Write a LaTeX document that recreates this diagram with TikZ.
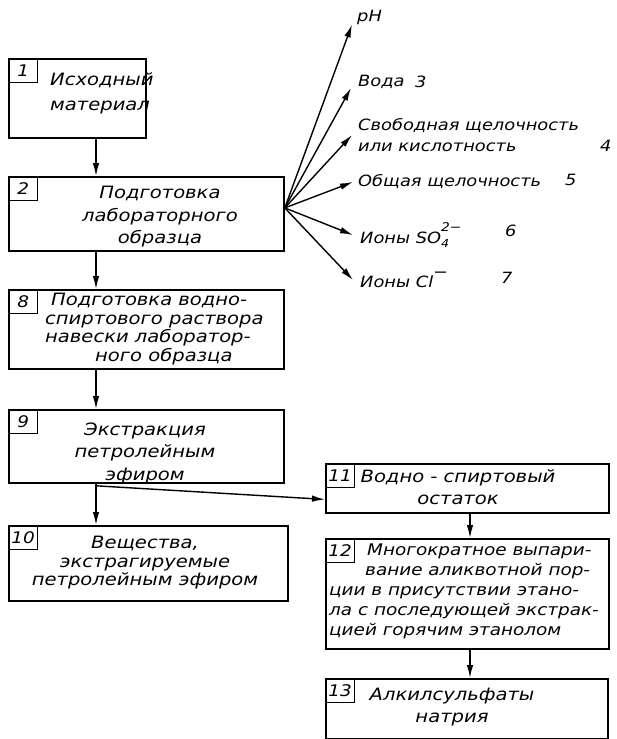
\documentclass[tikz,border=0pt]{standalone}
\usepackage{fontspec}
\setmainfont{DejaVu Sans}[FakeStretch=1.15]
\usetikzlibrary{positioning, arrows.meta}

\begin{document}
\begin{tikzpicture}[x=1pt, y=-1pt, >={Latex[length=13pt,width=6.5pt]},
	box/.style={draw, line width=1.8pt, anchor=north west, inner sep=0pt},
	num/.style={draw, line width=1.4pt, anchor=north west, minimum width=29pt, minimum height=24pt, inner sep=0pt, font=\fontsize{16}{16}\selectfont\itshape},
	txt/.style={align=center, inner sep=0pt, font=\fontsize{17}{22.5}\selectfont\itshape},
	lab/.style={align=left, anchor=west, inner sep=0pt, font=\fontsize{15.5}{21}\selectfont\itshape},
	link/.style={->, line width=1.4pt}]
			\useasboundingbox (0,0) rectangle (616,739);
			\coordinate (col) at (96,0);
			\coordinate (col2) at (470,0);

			\node[box, minimum width=137pt, minimum height=79pt] (b1) at (8,58) {};
			\node[box, minimum width=275pt, minimum height=74pt] (b2) at (8,176) {};
			\node[box, minimum width=275pt, minimum height=79pt] (b8) at (8,289) {};
			\node[box, minimum width=275pt, minimum height=73pt] (b9) at (8,409) {};
			\node[box, minimum width=279pt, minimum height=75pt] (b10) at (8,525) {};
			\node[box, minimum width=283pt, minimum height=49pt] (b11) at (325,463) {};
			\node[box, minimum width=283pt, minimum height=110pt] (b12) at (325,538) {};
			\node[box, minimum width=282pt, minimum height=60pt] (b13) at (325,678) {};

			\node[num] (n1) at (b1.north west) {1};
			\node[num] (n2) at (b2.north west) {2};
			\node[num] (n8) at (b8.north west) {8};
			\node[num] (n9) at (b9.north west) {9};
			\node[num] (n10) at (b10.north west) {10};
			\node[num] (n11) at (b11.north west) {11};
			\node[num] (n12) at (b12.north west) {12};
			\node[num] (n13) at (b13.north west) {13};

			\node[txt, align=left, anchor=west, font=\fontsize{17}{25}\selectfont\itshape] (t1) at (50,93) {Исходный\\материал};
			\node[txt] (t2) at (160,217) {Подготовка\\лабораторного\\образца};
			\node[txt, align=left, anchor=west, font=\fontsize{17}{18.5}\selectfont\itshape] (t8) at (45,329) {\hspace*{6pt}Подготовка водно-\\спиртового раствора\\навески лаборатор-\\\hspace*{50pt}ного образца};
			\node[txt] (t9) at (145,453) {Экстракция\\петролейным\\эфиром};
			\node[txt, font=\fontsize{17}{18.5}\selectfont\itshape] (t10) at (145,563) {Вещества,\\экстрагируемые\\петролейным эфиром};
			\node[txt] (t11) at (458,487) {Водно - спиртовый\\остаток};
			\node[txt, align=left, anchor=west, font=\fontsize{16}{20}\selectfont\itshape] (t12) at (329,591) {\hspace*{38pt}Многократное выпари-\\\hspace*{36pt}вание аликвотной пор-\\ции в присутствии этано-\\ла с последующей экстрак-\\цией горячим этанолом};
			\node[txt] (t13) at (452,707) {Алкилсульфаты\\натрия};

			\coordinate (fan) at ([yshift=6pt]b2.east);
			\node[lab] (ph) at (357,17) {pH};
			\node[lab] (voda) at (358,82) {Вода};
			\node[lab] (svob) at (358,135) {Свободная щелочность\\или кислотность};
			\node[lab] (obsh) at (358,182) {Общая щелочность};
			\node[lab] (so4) at (360,235) {Ионы SO\rlap{\raisebox{-0.45ex}{\fontsize{11}{11}\selectfont 4}}\raisebox{1.5ex}{\fontsize{12}{12}\selectfont 2−}};
			\node[lab] (cl) at (360,280) {Ионы Cl\raisebox{1.1ex}{−}};
			\node[lab] (d3) at (415,82) {3};
			\node[lab] (d4) at (600,146) {4};
			\node[lab] (d5) at (565,180) {5};
			\node[lab] (d6) at (505,231) {6};
			\node[lab] (d7) at (501,278) {7};

			\draw[link] (fan) -- ([xshift=-5pt]ph.south west);
			\draw[link] (fan) -- ([xshift=-7pt,yshift=1pt]voda.south west);
			\draw[link] (fan) -- ([xshift=-6pt]svob.west);
			\draw[link] (fan) -- ([xshift=-5pt]obsh.west);
			\draw[link] (fan) -- ([xshift=-7pt]so4.west);
			\draw[link] (fan) -- ([xshift=-7pt]cl.west);

			\draw[link] (b1.south -| col) -- (b2.north -| col);
			\draw[link] (b2.south -| col) -- (b8.north -| col);
			\draw[link] (b8.south -| col) -- (b9.north -| col);
			\draw[link] (b9.south -| col) -- (b10.north -| col);
			\draw[link] ([yshift=-2pt]b9.south -| col) -- ([yshift=-11pt]b11.west);
			\draw[link] (b11.south -| col2) -- (b12.north -| col2);
			\draw[link] (b12.south -| col2) -- (b13.north -| col2);
		\end{tikzpicture}
\end{document}
